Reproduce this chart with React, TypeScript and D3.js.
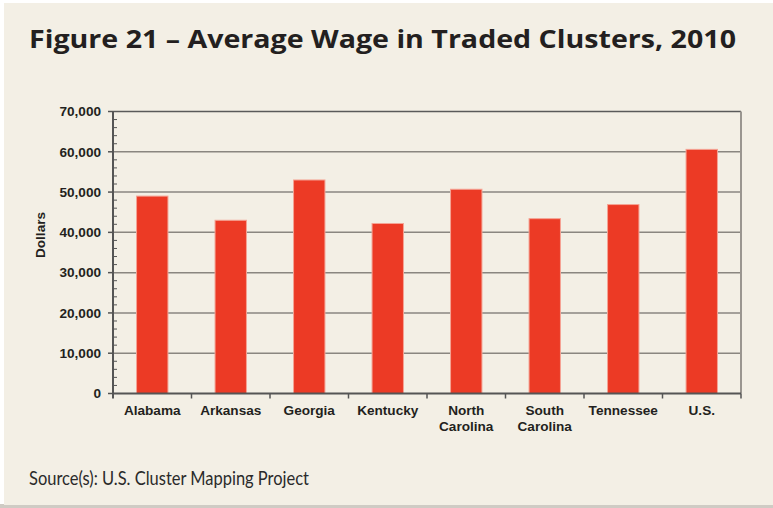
import React from "react";
import * as d3 from "d3";

const categories = ["Alabama", "Arkansas", "Georgia", "Kentucky", "North\nCarolina", "South\nCarolina", "Tennessee", "U.S."];
const wages = [49000, 43000, 53000, 42200, 50700, 43400, 46900, 60600];
const yTicks = [0, 10000, 20000, 30000, 40000, 50000, 60000, 70000];
const title = "Figure 21 – Average Wage in Traded Clusters, 2010";
const source = "Source(s): U.S. Cluster Mapping Project";
const yLabel = "Dollars";

export default function App() {
  const W = 773, H = 508;
  const left = 113, right = 741, top = 111.5, bottom = 393.5;
  const x = d3.scaleBand().domain(categories.map((_, i) => String(i))).range([left, right]).paddingInner(0.6).paddingOuter(0.3);
  const xb = d3.scaleBand().domain(categories.map((_, i) => String(i))).range([left, right]);
  const y = d3.scaleLinear().domain([0, 70000]).range([bottom, top]);
  const minor = d3.range(0, 70001, 2000).filter((v) => v % 10000 !== 0);
  const fmt = d3.format(",");
  const axisFont = "Arial, 'Liberation Sans', sans-serif";
  const fs = 13.6;
  return (
    <div style={{ position: "absolute", left: 0, top: 0 }}>
      <svg width={W} height={H} style={{ display: "block" }}>
        <rect x={0} y={0} width={W} height={H} fill="#ffffff" />
        <rect x={0} y={504} width={W} height={4} fill="#cfcbc4" />
        <rect x={4} y={3} width={W - 4} height={502} fill="#F3EFE5" />
        <text x={29} y={48} fontFamily="'Open Sans', sans-serif" fontWeight={700} fontSize={25} fill="#231f20" textLength={707} lengthAdjust="spacingAndGlyphs">{title}</text>
        {/* grid */}
        {yTicks.filter((v) => v > 0 && v < 70000).map((v) => (
          <line key={v} x1={left} x2={right} y1={y(v)} y2={y(v)} stroke="#8a8680" strokeWidth={1.5} />
        ))}
        <line x1={left} x2={right} y1={top} y2={top} stroke="#5a5a5a" strokeWidth={1.5} />
        <line x1={right} x2={right} y1={top} y2={bottom} stroke="#9a9690" strokeWidth={2} />
        {/* bars */}
        {wages.map((v, i) => (
          <rect key={i} x={x(String(i))!} y={y(v)} width={x.bandwidth()} height={bottom - y(v)} fill="#EC3A25" stroke="#F5A394" strokeWidth={1} />
        ))}
        {/* y axis */}
        <line x1={left} x2={left} y1={top} y2={bottom + 5} stroke="#555" strokeWidth={2} />
        {yTicks.map((v) => (
          <g key={v}>
            <line x1={left - 5} x2={left} y1={y(v)} y2={y(v)} stroke="#555" strokeWidth={1.5} />
            <text x={101} y={y(v)} dy="0.35em" textAnchor="end" fontFamily={axisFont} fontWeight={700} fontSize={fs} fill="#231f20">{fmt(v)}</text>
          </g>
        ))}
        {minor.map((v) => (
          <line key={v} x1={left} x2={left + 4} y1={y(v)} y2={y(v)} stroke="#555" strokeWidth={1} />
        ))}
        {/* x axis */}
        <line x1={left} x2={right} y1={bottom} y2={bottom} stroke="#555" strokeWidth={2} />
        {categories.map((c, i) => (
          <line key={"t" + i} x1={xb(String(i))! + xb.bandwidth()} x2={xb(String(i))! + xb.bandwidth()} y1={bottom} y2={bottom + 5} stroke="#555" strokeWidth={1.5} />
        ))}
        {categories.map((c, i) => (
          <text key={"l" + i} x={xb(String(i))! + xb.bandwidth() / 2} y={415} textAnchor="middle" fontFamily={axisFont} fontWeight={700} fontSize={fs} fill="#231f20">
            {c.split("\n").map((line, j) => (
              <tspan key={j} x={xb(String(i))! + xb.bandwidth() / 2} dy={j === 0 ? 0 : 15.5}>{line}</tspan>
            ))}
          </text>
        ))}
        <text transform={`translate(45,235) rotate(-90)`} textAnchor="middle" fontFamily={axisFont} fontWeight={700} fontSize={fs} fill="#231f20">{yLabel}</text>
        <text x={29} y={484.5} fontFamily="Lato, sans-serif" fontWeight={400} fontSize={20} fill="#2a2a2a" textLength={280} lengthAdjust="spacingAndGlyphs">{source}</text>
      </svg>
    </div>
  );
}
